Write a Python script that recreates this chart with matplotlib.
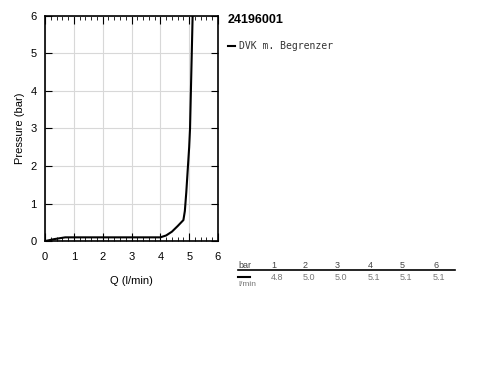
import numpy as np
import matplotlib.pyplot as plt
from matplotlib.ticker import MultipleLocator

# curve
q = [0.0, 0.3, 0.7, 1.0, 2.0, 3.0, 4.0, 4.2, 4.4, 4.6, 4.8, 4.85, 4.9, 4.95, 5.0, 5.03, 5.06, 5.09, 5.12]
p = [0.0, 0.05, 0.1, 0.1, 0.1, 0.1, 0.1, 0.15, 0.25, 0.4, 0.56, 0.8, 1.3, 1.9, 2.5, 3.0, 4.0, 5.0, 6.0]

series_name = "DVK m. Begrenzer"
article = "24196001"
bar_vals = ["1", "2", "3", "4", "5", "6"]
flow_vals = ["4.8", "5.0", "5.0", "5.1", "5.1", "5.1"]

plt.rcParams['font.family'] = ['Liberation Sans', 'DejaVu Sans']
fig = plt.figure(figsize=(5.0, 3.87), dpi=100)
ax = fig.add_axes([0.09, 0.377, 0.346, 0.582])

ax.plot(q, p, color='black', lw=1.5)
ax.set_xlim(0, 6)
ax.set_ylim(0, 6)
ax.xaxis.set_major_locator(MultipleLocator(1))
ax.yaxis.set_major_locator(MultipleLocator(1))
ax.xaxis.set_minor_locator(MultipleLocator(0.2))
ax.grid(True, which='major', color='#d8d8d8', lw=0.8)
ax.tick_params(axis='x', which='major', direction='in', length=6, top=True, labelsize=8, pad=8)
ax.tick_params(axis='x', which='minor', direction='in', length=3, top=True)
ax.tick_params(axis='y', which='major', direction='in', length=5, right=True, labelsize=8, pad=6)
for s in ax.spines.values():
    s.set_linewidth(1.2)
ax.set_xlabel("Q (l/min)", fontsize=8, labelpad=10)
ax.set_ylabel("Pressure (bar)", fontsize=8, labelpad=4)

fig.text(228 / 500, 1 - 20 / 387, article, fontsize=9, fontweight='bold', va='center')
fig.lines.append(plt.Line2D([228 / 500, 235 / 500], [1 - 46 / 387] * 2, color='black', lw=1.5,
                            transform=fig.transFigure))
fig.text(239 / 500, 1 - 46 / 387, series_name, fontsize=7, family='DejaVu Sans Mono',
         color='#333333', va='center')

# small value table
fig.text(238 / 500, 1 - 265 / 387, "bar", fontsize=6.5, color='#444444', va='center')
fig.lines.append(plt.Line2D([238 / 500, 455 / 500], [1 - 270 / 387] * 2, color='black', lw=1.2,
                            transform=fig.transFigure))
fig.lines.append(plt.Line2D([238 / 500, 250 / 500], [1 - 277 / 387] * 2, color='black', lw=1.5,
                            transform=fig.transFigure))
fig.text(238 / 500, 1 - 285 / 387, "l/min", fontsize=6, color='#777777', va='center')
xs = [271, 303, 335, 368, 400, 433]
for x, b, f in zip(xs, bar_vals, flow_vals):
    fig.text(x / 500, 1 - 265 / 387, b, fontsize=6.5, color='#444444', va='center')
    fig.text(x / 500, 1 - 278 / 387, f, fontsize=6.5, color='#777777', va='center')

fig.savefig("out.png", dpi=100)
